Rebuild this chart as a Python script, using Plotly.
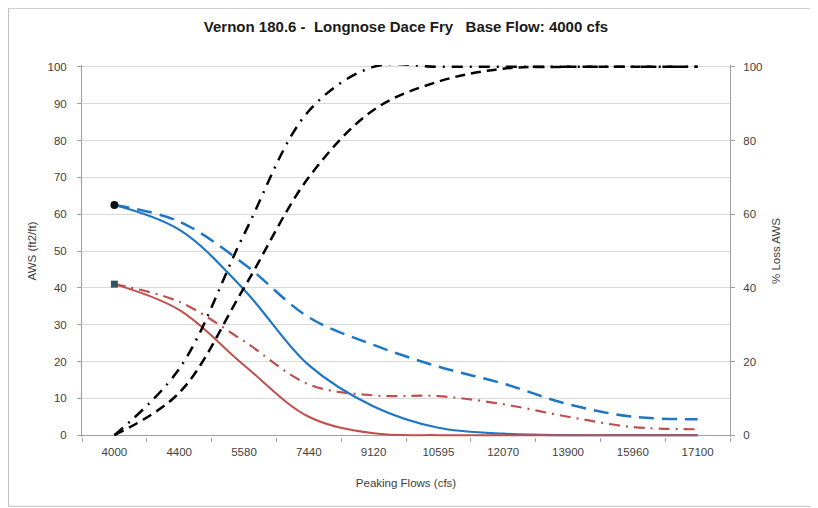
import plotly.graph_objects as go

# Data
categories = ["4000", "4400", "5580", "7440", "9120", "10595", "12070", "13900", "15960", "17100"]

aws_blue_solid = [62.5, 55.8, 39.5, 19.0, 7.8, 2.0, 0.4, 0.0, 0.0, 0.0]
aws_blue_dashed = [62.5, 58.0, 46.5, 32.0, 24.5, 18.6, 14.0, 8.4, 5.0, 4.3]
aws_red_solid = [41.0, 34.0, 19.0, 5.0, 0.5, 0.0, 0.0, 0.0, 0.0, 0.0]
aws_red_dashdot = [41.0, 36.2, 25.5, 13.8, 10.8, 10.6, 8.4, 5.0, 2.2, 1.6]
loss_black_dashdot = [0.0, 18.0, 54.5, 88.0, 100.0, 100.0, 100.0, 100.0, 100.0, 100.0]
loss_black_dashed = [0.0, 11.5, 40.0, 70.0, 88.3, 96.0, 99.5, 100.0, 100.0, 100.0]

FONT = "Liberation Sans, Arial, sans-serif"
TXT = "#404040"
BLUE = "#1F77C4"
RED = "#C0504D"

fig = go.Figure()

fig.add_trace(go.Scatter(x=categories, y=aws_blue_dashed, mode="lines",
                         line=dict(color=BLUE, width=2.5, dash="15px,8px", shape="spline", smoothing=1.0)))
fig.add_trace(go.Scatter(x=categories, y=aws_red_dashdot, mode="lines",
                         line=dict(color=RED, width=2.2, dash="11px,6px,2px,6px", shape="spline", smoothing=1.0)))
fig.add_trace(go.Scatter(x=categories, y=aws_blue_solid, mode="lines",
                         line=dict(color=BLUE, width=2.2, shape="spline", smoothing=1.0)))
fig.add_trace(go.Scatter(x=categories, y=aws_red_solid, mode="lines",
                         line=dict(color=RED, width=2, shape="spline", smoothing=1.0)))
fig.add_trace(go.Scatter(x=categories, y=loss_black_dashdot, mode="lines", yaxis="y2",
                         line=dict(color="#000000", width=2.5, dash="11px,7px,2px,7px", shape="spline", smoothing=1.0)))
fig.add_trace(go.Scatter(x=categories, y=loss_black_dashed, mode="lines", yaxis="y2",
                         line=dict(color="#000000", width=2.5, dash="10px,6px", shape="spline", smoothing=1.0)))
# base-flow markers
fig.add_trace(go.Scatter(x=categories[:1], y=aws_blue_solid[:1], mode="markers",
                         marker=dict(symbol="circle", size=8, color="#111111")))
fig.add_trace(go.Scatter(x=categories[:1], y=aws_red_solid[:1], mode="markers",
                         marker=dict(symbol="square", size=7, color="#2F5560")))

# figure is offset by the 8px page margin
W, H = 810, 500
L, R = 74, 88
T, B = 57.2, 71.2
PW = W - L - R
PH = H - T - B
def px(x):
    return (x - L) / PW
def py(y):
    return (T + PH - y) / PH

axis_font = dict(family=FONT, size=11.5, color=TXT)

fig.update_layout(
    width=W, height=H,
    margin=dict(l=L, r=R, t=T, b=B, pad=0),
    paper_bgcolor="white", plot_bgcolor="white",
    showlegend=False,
    font=dict(family=FONT, size=11.5, color=TXT),
    title=dict(text="<b>Vernon 180.6 -  Longnose Dace Fry   Base Flow: 4000 cfs</b>",
               x=0.5, xref="paper", xanchor="center", y=1 - 19 / H, yanchor="middle",
               font=dict(family=FONT, size=15, color="#1a1a1a")),
    xaxis=dict(type="category", range=[-0.5, 9.5], showgrid=False, showline=False, zeroline=False,
               ticks="outside", tickson="boundaries", ticklen=4, tickcolor="#A0A0A0",
               ticklabelstandoff=6,
               tickfont=axis_font,
               title=dict(text="Peaking Flows (cfs)", standoff=22, font=axis_font)),
    yaxis=dict(range=[-0.5, 100.5], tickvals=list(range(0, 101, 10)),
               showgrid=True, gridcolor="#D9D9D9", gridwidth=1,
               zeroline=True, zerolinecolor="#A0A0A0", zerolinewidth=1,
               showline=True, linecolor="#A0A0A0", linewidth=1,
               ticks="outside", ticklen=4, tickcolor="#A0A0A0",
               ticklabelstandoff=8,
               tickfont=axis_font,
               title=dict(text="AWS (ft2/ft)", standoff=8, font=axis_font)),
    yaxis2=dict(range=[-0.5, 100.5], tickvals=list(range(0, 101, 20)), overlaying="y", side="right",
                showgrid=False, zeroline=False, showline=True, linecolor="#A0A0A0", linewidth=1,
                ticks="outside", ticklen=4, tickcolor="#A0A0A0",
                ticklabelstandoff=6,
                tickfont=axis_font,
                title=dict(text="% Loss AWS", standoff=10, font=axis_font)),
    shapes=[dict(type="rect", xref="paper", yref="paper",
                 x0=px(0.5), x1=px(805), y0=py(498), y1=py(0.5),
                 line=dict(color="#BFBFBF", width=1), fillcolor="rgba(0,0,0,0)", layer="below")],
)

fig.write_html("out.html")
